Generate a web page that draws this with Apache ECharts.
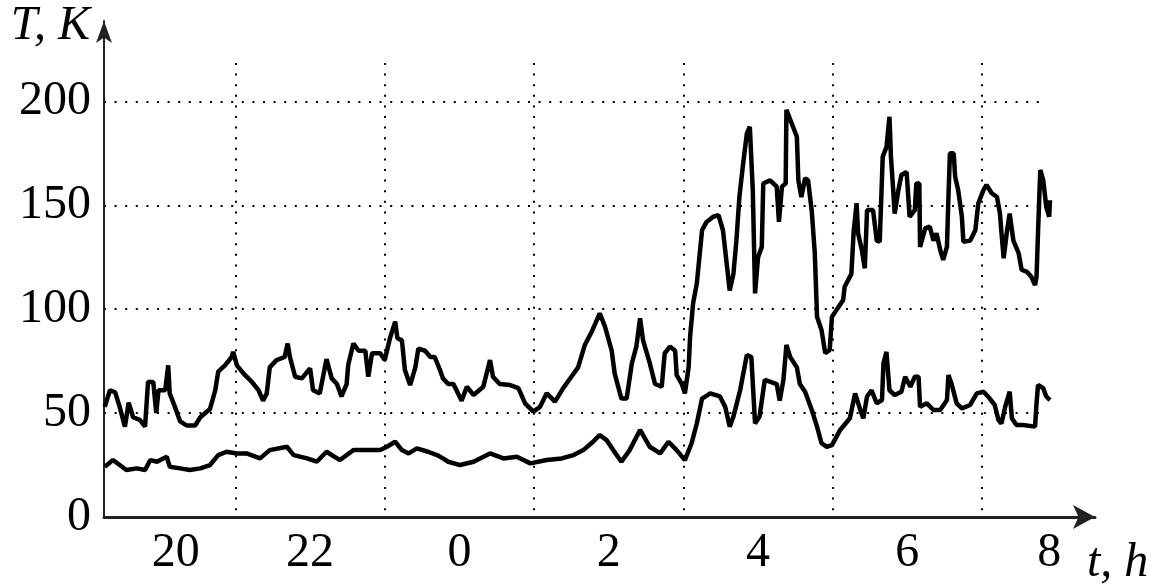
<!DOCTYPE html>
<html><head><meta charset="utf-8">
<script src="https://cdn.jsdelivr.net/npm/echarts@6/dist/echarts.min.js"></script>
<style>html,body{margin:0;padding:0;background:#fff}#c{width:1168px;height:587px}</style>
</head><body><div id="c"></div>
<script>
// time in hours (values > 24 are after midnight), temperature in K
const upperTemp = [[19.25,53],[19.32,61],[19.39,60],[19.45,53],[19.52,43.5],[19.57,55],[19.63,48],[19.72,46.7],[19.79,43.5],[19.83,65],[19.90,65],[19.94,50],[19.97,61],[20.06,61],[20.10,73],[20.12,59.5],[20.19,53],[20.26,46],[20.35,44],[20.46,44],[20.53,48],[20.66,52],[20.73,61],[20.77,70],[20.86,73],[20.95,77],[20.97,79.5],[21.02,73],[21.11,69],[21.22,65],[21.31,61],[21.37,56],[21.42,59.5],[21.46,72],[21.55,75.5],[21.66,77],[21.70,83.5],[21.73,77],[21.80,67.5],[21.89,66.7],[22.00,71.5],[22.04,61],[22.13,59.5],[22.22,76],[22.29,66.7],[22.36,64],[22.42,58],[22.49,64],[22.51,73],[22.58,83.5],[22.65,80],[22.74,80],[22.78,67.5],[22.83,78.8],[22.94,78.8],[23.00,75.5],[23.07,86],[23.14,94],[23.17,86],[23.23,85],[23.27,70.7],[23.34,63.5],[23.41,72],[23.45,81],[23.54,80],[23.61,77],[23.67,77],[23.74,70.7],[23.78,66.7],[23.85,64],[23.92,64],[24.03,56],[24.10,62.7],[24.19,58.7],[24.32,62.7],[24.41,75.5],[24.45,67.5],[24.54,64],[24.68,63.5],[24.79,62],[24.88,54.7],[24.99,50.7],[25.08,53],[25.17,59.5],[25.28,55.5],[25.39,62],[25.50,67.5],[25.59,72],[25.68,82.8],[25.77,89],[25.88,98],[25.95,91.6],[26.04,80],[26.08,69],[26.17,57],[26.24,57],[26.31,74],[26.37,82],[26.42,95.6],[26.46,85],[26.55,74],[26.62,64],[26.71,62.7],[26.75,78.8],[26.82,82],[26.89,80],[26.91,68.3],[26.98,64],[27.02,59.5],[27.07,72],[27.09,86.8],[27.13,102.8],[27.18,112.4],[27.25,138],[27.31,142],[27.40,144.5],[27.47,145.3],[27.53,138],[27.58,122],[27.62,109],[27.67,117],[27.71,133],[27.75,154],[27.80,170],[27.85,184.6],[27.89,187.8],[27.93,157],[27.96,107.6],[28.00,125],[28.05,130],[28.07,160.5],[28.16,162],[28.25,159],[28.28,142],[28.32,159],[28.37,160.5],[28.38,196],[28.45,189.5],[28.52,183],[28.54,162],[28.58,154],[28.63,163],[28.67,162],[28.72,147],[28.76,127],[28.79,96.4],[28.85,90],[28.90,78.8],[28.96,80.4],[28.99,96.4],[29.05,99.6],[29.14,104.4],[29.16,110.8],[29.25,117],[29.28,137],[29.32,151],[29.34,136.5],[29.39,128.5],[29.43,119.7],[29.46,147.7],[29.54,147.7],[29.59,133],[29.63,132.5],[29.67,173.4],[29.72,178],[29.76,192.6],[29.78,173.4],[29.81,157.4],[29.83,146],[29.88,157.4],[29.92,164.6],[29.99,166],[30.03,144.5],[30.10,147.7],[30.12,160.5],[30.16,160.5],[30.17,130],[30.24,139],[30.30,139.7],[30.35,133],[30.39,136.5],[30.44,128.5],[30.48,123.7],[30.53,130],[30.55,154],[30.57,175],[30.62,175],[30.64,163.8],[30.68,157.4],[30.73,144.5],[30.75,132.5],[30.84,133],[30.91,138],[30.95,151],[31.02,157.4],[31.06,159.8],[31.13,155.8],[31.20,154],[31.24,146],[31.26,137],[31.29,124.5],[31.33,136.5],[31.37,146],[31.42,133],[31.49,127],[31.53,119],[31.60,118],[31.66,115.6],[31.71,111.6],[31.73,115.6],[31.75,137],[31.78,167],[31.82,162],[31.86,149.3],[31.90,144.5],[31.91,152.5]];

const lowerTemp = [[19.25,24.2],[19.36,27.4],[19.45,25],[19.54,22.6],[19.68,23.4],[19.79,22.6],[19.86,27.4],[19.95,26.6],[20.08,29],[20.12,24.2],[20.26,23.4],[20.39,22.6],[20.53,23.4],[20.66,25],[20.77,29.8],[20.88,31.4],[21.02,30.6],[21.15,30.6],[21.33,28.2],[21.46,32.2],[21.69,33.8],[21.78,29.8],[21.96,28.2],[22.09,26.6],[22.22,31.4],[22.40,27.4],[22.58,32.2],[22.76,32.2],[22.94,32.2],[23.03,33.8],[23.14,36.2],[23.23,32.2],[23.32,30.6],[23.43,33],[23.58,31.4],[23.70,29.8],[23.78,28.2],[23.85,26.6],[24.01,25],[24.19,26.6],[24.41,30.6],[24.59,28.2],[24.77,29],[24.95,25.8],[25.17,27.4],[25.37,28.2],[25.53,29.8],[25.66,32.2],[25.79,36.2],[25.88,39.5],[25.97,37],[26.06,32.2],[26.17,26.6],[26.28,32.2],[26.42,41.9],[26.55,33.8],[26.69,30.6],[26.80,36.2],[26.91,32.2],[27.02,27.4],[27.11,35.5],[27.18,45],[27.25,57],[27.36,59.5],[27.49,58],[27.56,53],[27.62,43.5],[27.67,48.3],[27.76,61],[27.85,78],[27.91,77],[27.96,45],[28.02,48.3],[28.09,66],[28.25,64],[28.29,56],[28.34,66],[28.38,82.8],[28.43,77],[28.52,72],[28.56,64],[28.63,60.3],[28.72,51.5],[28.79,43.5],[28.85,35.5],[28.92,33.8],[28.99,34.6],[29.10,41.9],[29.23,47.5],[29.30,59.5],[29.37,51.5],[29.41,47.5],[29.46,58],[29.52,61],[29.59,54.7],[29.66,56.3],[29.68,74],[29.72,79.5],[29.76,61],[29.83,58.7],[29.92,60.3],[29.97,67.5],[30.04,62.7],[30.10,67.5],[30.15,67.5],[30.17,53],[30.26,54.7],[30.35,51.5],[30.44,51.5],[30.53,56.3],[30.55,68.3],[30.59,64.3],[30.66,54.7],[30.73,52.3],[30.84,53.9],[30.93,59.5],[31.02,60.3],[31.08,58],[31.17,53.9],[31.22,46.7],[31.26,45],[31.31,53],[31.37,60.3],[31.40,47.5],[31.46,44.3],[31.55,44.3],[31.71,43.5],[31.73,54.7],[31.75,63.5],[31.82,62],[31.86,58],[31.91,56.3]];

const yLabelValues = [0, 50, 100, 150, 200];
const yGridValues = [50, 100, 150, 200];
const xGridHours = [21, 23, 25, 27, 29, 31];
const xLabelHours = [20.2, 22, 24, 26, 28, 30, 31.9];
const xAxisName = 't, h';
const yAxisName = 'T, K';

const font = 'Liberation Serif';
const chart = echarts.init(document.getElementById('c'), null, {renderer: 'canvas'});
const dotted = {color: '#000', width: 2, type: [2, 8.6]};
chart.setOption({
  animation: false,
  backgroundColor: '#fff',
  grid: [
    {left: 104, right: 73, top: 21, bottom: 70},
    {left: 104, right: 125, top: 63, bottom: 70}
  ],
  xAxis: [
    {gridIndex: 0, type: 'value', min: 19.24, max: 32.513,
     axisLine: {show: true, lineStyle: {color: '#222', width: 3}, symbol: ['none', 'arrow'], symbolSize: [18, 22]},
     axisTick: {show: false}, splitLine: {show: false},
     axisLabel: {customValues: xLabelHours, formatter: v => String(Math.round(v) % 24),
       color: '#000', fontFamily: font, fontSize: 48, margin: 12},
     name: xAxisName, nameLocation: 'end', nameGap: -8,
     nameTextStyle: {fontFamily: font, fontStyle: 'italic', fontSize: 48, color: '#000',
       align: 'left', verticalAlign: 'top', padding: [22, 0, 0, 0]}},
    {gridIndex: 1, type: 'value', min: 19.24, max: 31.816,
     axisLine: {show: false}, axisLabel: {show: false},
     axisTick: {show: false, customValues: xGridHours},
     splitLine: {show: true, lineStyle: dotted}}
  ],
  yAxis: [
    {gridIndex: 0, type: 'value', min: 0, max: 238.7,
     axisLine: {show: true, lineStyle: {color: '#222', width: 2}, symbol: ['none', 'arrow'], symbolSize: [12, 22]},
     axisTick: {show: false}, splitLine: {show: false},
     axisLabel: {customValues: yLabelValues, color: '#000', fontFamily: font, fontSize: 48, margin: 13},
     name: yAxisName, nameLocation: 'end', nameGap: 19,
     nameTextStyle: {fontFamily: font, fontStyle: 'italic', fontSize: 48, color: '#000',
       align: 'right', verticalAlign: 'top', padding: [0, 14, 0, 0]}},
    {gridIndex: 1, type: 'value', min: 0, max: 218.5,
     axisLine: {show: false}, axisLabel: {show: false},
     axisTick: {show: false, customValues: yGridValues},
     splitLine: {show: true, lineStyle: dotted}}
  ],
  series: [
    {type: 'line', xAxisIndex: 0, yAxisIndex: 0, data: upperTemp, showSymbol: false, symbol: 'none',
     lineStyle: {color: '#000', width: 4.5}, z: 3},
    {type: 'line', xAxisIndex: 0, yAxisIndex: 0, data: lowerTemp, showSymbol: false, symbol: 'none',
     lineStyle: {color: '#000', width: 4.5}, z: 3}
  ]
});
</script>
</body></html>
